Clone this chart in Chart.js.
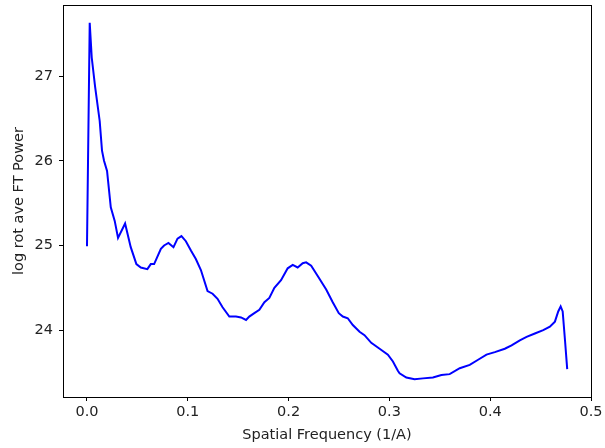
<!DOCTYPE html>
<html>
<head>
<meta charset="utf-8">
<script src="https://cdn.jsdelivr.net/npm/chart.js@4/dist/chart.umd.min.js"></script>
<style>
  html, body { margin: 0; padding: 0; background: #fff; }
  #wrap { width: 605px; height: 448px; }
</style>
</head>
<body>
<div id="wrap"><canvas id="spectrum" width="605" height="448"></canvas></div>
<script>
// spatial frequency (1/A)
const freq = [
  0.000, 0.0027, 0.0047, 0.008, 0.0126, 0.0149, 0.0169, 0.0199, 0.0236, 0.0275,
  0.0308, 0.0378, 0.0434, 0.049, 0.0534, 0.0599, 0.0633, 0.0666, 0.0733, 0.0765,
  0.0808, 0.0858, 0.0898, 0.0937, 0.0981, 0.1031, 0.108, 0.113, 0.1196, 0.1246,
  0.1295, 0.1345, 0.1412, 0.1478, 0.1528, 0.1578, 0.161, 0.166, 0.171, 0.176,
  0.1809, 0.1859, 0.1925, 0.1991, 0.2041, 0.209, 0.214, 0.2174, 0.2224, 0.2289,
  0.2373, 0.2438, 0.2498, 0.2538, 0.2587, 0.2637, 0.2704, 0.2753, 0.282, 0.2903,
  0.2985, 0.3035, 0.3084, 0.3101, 0.3168, 0.325, 0.3333, 0.3432, 0.3516, 0.3598,
  0.3698, 0.3797, 0.388, 0.3963, 0.4046, 0.4145, 0.4212, 0.4294, 0.4361, 0.4443,
  0.4526, 0.4592, 0.4642, 0.4675, 0.4699, 0.4719, 0.4742, 0.4764
];
// log rotational average FT power
const power = [
  24.99, 27.63, 27.22, 26.88, 26.47, 26.12, 26.00, 25.88, 25.45, 25.29,
  25.09, 25.26, 24.98, 24.78, 24.74, 24.72, 24.78, 24.78, 24.96, 25.00,
  25.03, 24.98, 25.08, 25.11, 25.05, 24.94, 24.84, 24.71, 24.46, 24.43,
  24.37, 24.27, 24.16, 24.16, 24.15, 24.12, 24.16, 24.20, 24.24, 24.33,
  24.38, 24.50, 24.59, 24.73, 24.77, 24.74, 24.79, 24.80, 24.76, 24.64,
  24.48, 24.33, 24.20, 24.16, 24.14, 24.06, 23.98, 23.94, 23.85, 23.78,
  23.71, 23.63, 23.52, 23.49, 23.44, 23.42, 23.43, 23.44, 23.47, 23.48,
  23.55, 23.59, 23.65, 23.71, 23.74, 23.78, 23.82, 23.88, 23.92, 23.96,
  24.00, 24.04, 24.10, 24.22, 24.28, 24.22, 23.88, 23.54
];
const xTicks = [0.0, 0.1, 0.2, 0.3, 0.4, 0.5];
const yTicks = [24, 25, 26, 27];

const points = freq.map((f, i) => ({ x: f, y: power[i] }));

const font = { family: 'DejaVu Sans', size: 14.5 };

// full box around the plot like the matplotlib spines
const frame = {
  id: 'frame',
  afterDraw(chart) {
    const { ctx, chartArea: a } = chart;
    ctx.save();
    ctx.strokeStyle = '#000';
    ctx.lineWidth = 1;
    ctx.strokeRect(Math.round(a.left) + 0.5, Math.round(a.top) + 0.5,
      Math.round(a.right - a.left), Math.round(a.bottom - a.top));
    ctx.restore();
  },
};

new Chart(document.getElementById('spectrum').getContext('2d'), {
  type: 'line',
  data: {
    datasets: [{
      data: points,
      borderColor: '#0000ff',
      borderWidth: 2,
      pointRadius: 0,
      tension: 0,
      fill: false,
    }],
  },
  options: {
    responsive: false,
    animation: false,
    layout: { padding: { top: 5, right: 14, left: 0, bottom: 0 } },
    plugins: {
      legend: { display: false },
      tooltip: { enabled: false },
    },
    scales: {
      x: {
        type: 'linear',
        min: -0.0238,
        max: 0.5,
        afterFit(scale) {
          scale.height = 51;
          scale.paddingLeft = 0;
          scale.paddingRight = 0;
        },
        afterBuildTicks(scale) { scale.ticks = xTicks.map(v => ({ value: v })); },
        grid: { drawOnChartArea: false, tickLength: 4, tickColor: '#000' },
        border: { color: '#000' },
        ticks: {
          color: '#222',
          font,
          padding: 3,
          maxRotation: 0,
          callback: v => v.toFixed(1),
        },
        title: {
          display: true,
          text: 'Spatial Frequency (1/A)',
          color: '#222',
          font,
          padding: { top: 2, bottom: 4 },
        },
      },
      y: {
        min: 23.21,
        max: 27.84,
        afterFit(scale) {
          scale.width = 63;
          scale.paddingTop = 0;
          scale.paddingBottom = 0;
        },
        afterBuildTicks(scale) { scale.ticks = yTicks.map(v => ({ value: v })); },
        grid: { drawOnChartArea: false, tickLength: 4, tickColor: '#000' },
        border: { color: '#000' },
        ticks: { color: '#222', font, padding: 6 },
        title: {
          display: true,
          text: 'log rot ave FT Power',
          color: '#222',
          font,
          padding: { top: 11, bottom: 4 },
        },
      },
    },
  },
  plugins: [frame],
});
</script>
</body>
</html>
